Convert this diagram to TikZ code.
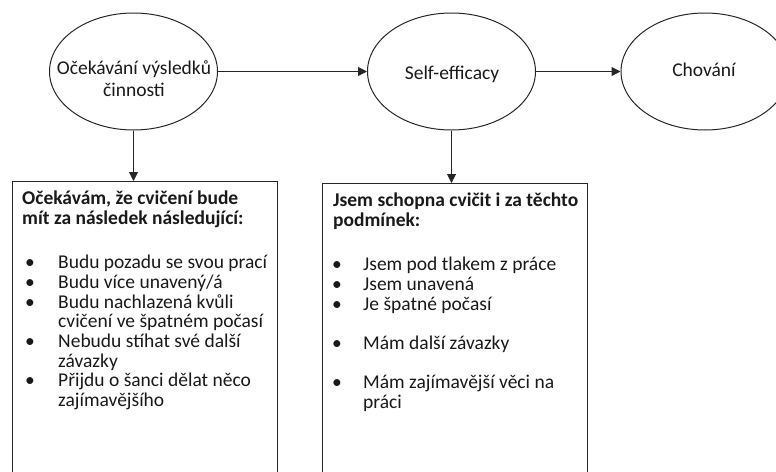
\documentclass[tikz,border=0pt]{standalone}
\usepackage{fontspec}
\setmainfont{Carlito}
\usetikzlibrary{shapes,arrows.meta,positioning}

\begin{document}
\begin{tikzpicture}[x=1pt,y=-1pt]
            \tikzstyle{oval}=[ellipse,draw=black!85,line width=1pt,minimum width=168pt,minimum height=117pt,inner sep=0pt]
            \tikzstyle{frame}=[rectangle,draw=black!85,line width=1pt,minimum width=265pt,minimum height=330pt,inner sep=0pt,anchor=north west]
            \tikzstyle{ovaltxt}=[inner sep=0pt,text=black!90,font=\fontsize{19.5}{22}\selectfont]
            \tikzstyle{txt}=[inner sep=0pt,text=black!90,font=\fontsize{19.5}{19.6}\selectfont]
            \tikzstyle{boxhead}=[txt,font=\fontsize{19.5}{19.6}\selectfont\bfseries]

            \tikzstyle{every edge}=[draw=black!85,line width=1pt,-{Triangle[length=9pt,width=9pt]}]

            \useasboundingbox (0,0) rectangle (776,471);
            \clip (0,0) rectangle (776,471);

            % the three ovals
            \node[oval] (expect)   at (133.5,71.5) {};
            \node[oval] (efficacy) at (451.5,71.5) {};
            \node[oval] (behave)   at (705,71.5) {};

            \node[ovaltxt] (expecttext) at (134,81) {\begin{tabular}{@{}c@{}}Očekávání výsledků\\činnosti\end{tabular}};
            \node[ovaltxt] (efficacytext) at (452,75) {\begin{tabular}{@{}c@{}}Self-efficacy\end{tabular}};
            \node[ovaltxt] (behavetext) at (704,72) {\begin{tabular}{@{}c@{}}Chování\end{tabular}};

            % the two lists
            \node[frame] (expectbox)   at (12,181) {};
            \node[frame] (efficacybox) at (322,183) {};

            \node[boxhead] (expecthead) [below right=10pt and 10pt of expectbox.north west]
                {\begin{tabular}{@{}l@{}}Očekávám, že cvičení bude\\mít za následek následující:\end{tabular}};
            \node[txt] (expectlist) [below right=74pt and 13pt of expectbox.north west]
                {\begin{tabular}{@{}p{33pt}@{}l@{}}
                 \textbullet & Budu pozadu se svou prací\\
                 \textbullet & Budu více unavený/á\\
                 \textbullet & Budu nachlazená kvůli\\
                             & cvičení ve špatném počasí\\
                 \textbullet & Nebudu stíhat své další\\
                             & závazky\\
                 \textbullet & Přijdu o šanci dělat něco\\
                             & zajímavějšího
                 \end{tabular}};

            \node[boxhead] (efficacyhead) [below right=10pt and 11pt of efficacybox.north west]
                {\begin{tabular}{@{}l@{}}Jsem schopna cvičit i za těchto\\podmínek:\end{tabular}};
            \node[txt] (efficacylist) [below right=74pt and 10pt of efficacybox.north west]
                {\begin{tabular}{@{}p{31pt}@{}l@{}}
                 \textbullet & Jsem pod tlakem z práce\\
                 \textbullet & Jsem unavená\\
                 \textbullet & Je špatné počasí\\
                             & \\
                 \textbullet & Mám další závazky\\
                             & \\
                 \textbullet & Mám zajímavější věci na\\
                             & práci
                 \end{tabular}};

            \path (expect) edge (efficacy);
            \path (efficacy) edge (behave);
            \path (expect) edge (expect.south |- expectbox.north);
            \path (efficacy) edge (efficacy.south |- efficacybox.north);
        \end{tikzpicture}
\end{document}
